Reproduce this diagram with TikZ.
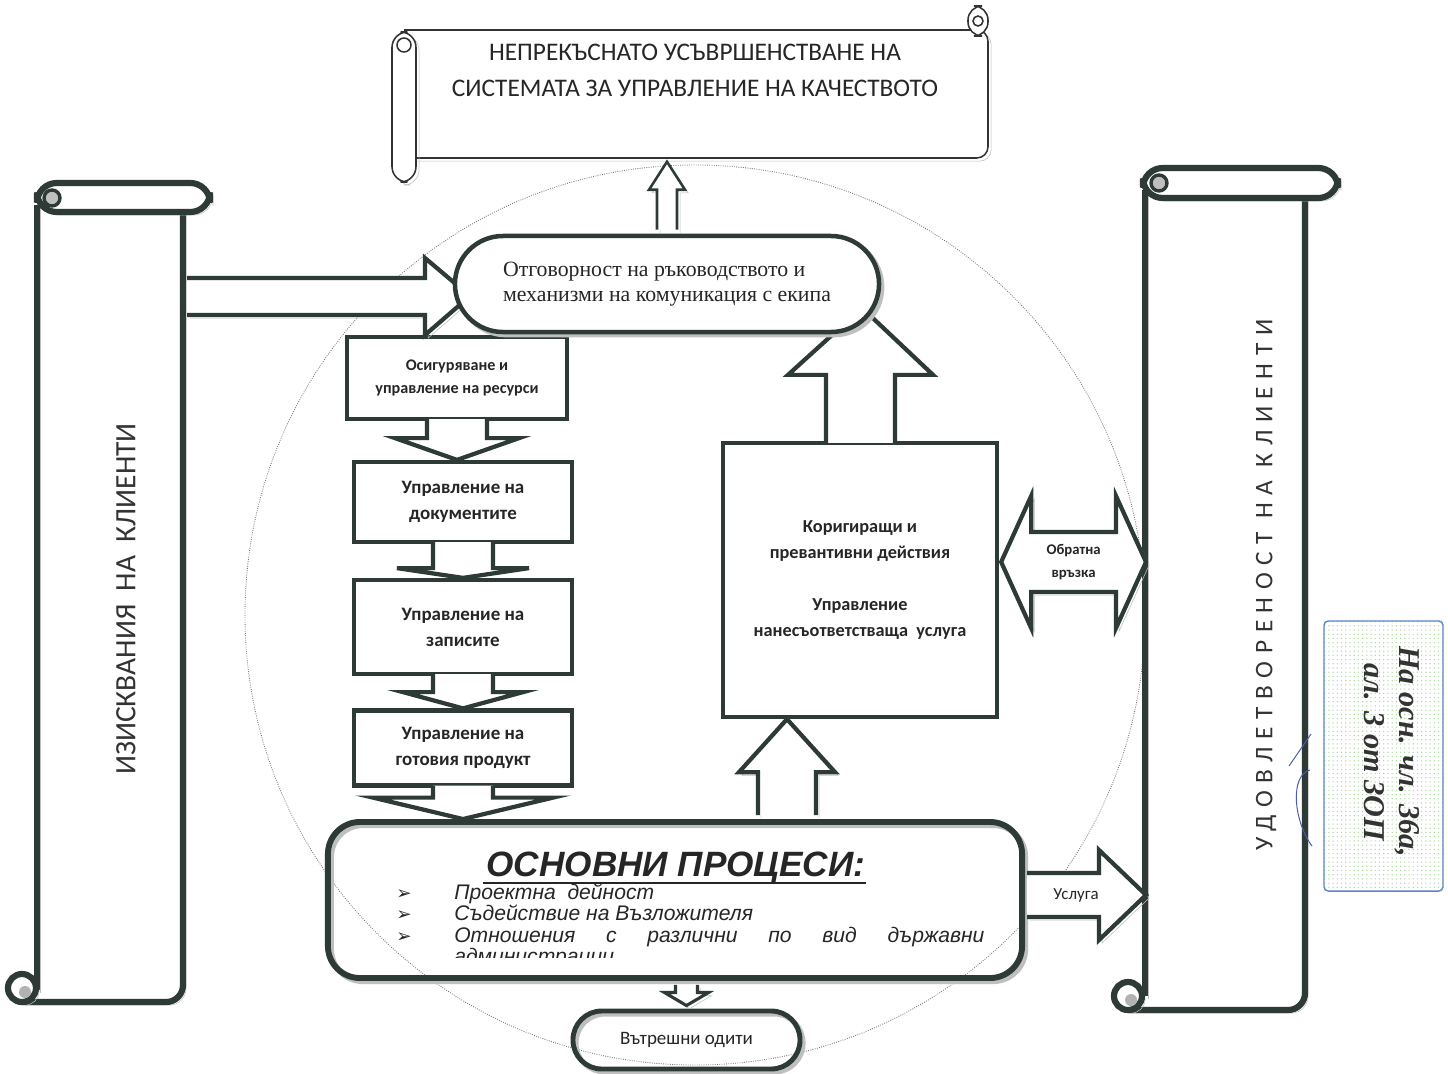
\documentclass[tikz,border=0pt]{standalone}
\usepackage{fontspec}
\setmainfont{Liberation Serif}
\newfontfamily\calibrifont{Carlito}
\newfontfamily\arialfont{Liberation Sans}
\newfontfamily\dingfont{DejaVu Sans}
\newfontfamily\widefont[LetterSpace=30]{Carlito}
\usetikzlibrary{calc,shadows,patterns}

\definecolor{ink}{HTML}{2E3A36}
\definecolor{stampblue}{HTML}{5B86C5}
\definecolor{dotgreen}{HTML}{A8D898}
\definecolor{penblue}{HTML}{4A5DB0}

\tikzset{
  rim/.style={draw=ink, line width=3pt, line join=miter},
  heavyrim/.style={draw=ink, line width=4.4pt},
  thinrim/.style={draw=black!80, line width=1.1pt},
  ghost/.style={general shadow={draw=black!25, shadow xshift=2.2pt, shadow yshift=-2.2pt}},
  stepbox/.style={rim, fill=white, align=center, text=black!85,
    font=\calibrifont\bfseries\fontsize{13.5}{18.5}\selectfont},
  blockarrow/.style={rim, fill=white},
  listline/.style={anchor=base west, inner sep=0pt, text=black!85,
    font=\arialfont\itshape\fontsize{15}{18}\selectfont},
  markline/.style={anchor=base west, inner sep=0pt, text=black!85,
    font=\dingfont\fontsize{13}{15}\selectfont},
}

\begin{document}
\begin{tikzpicture}[x=0.025cm, y=-0.025cm]
  \path[use as bounding box, fill=white] (0,0) rectangle (1448,1073);

  % dotted circle behind the processes
  \draw[black!55, densely dotted, line width=0.6pt] (695,615) circle (450);

  % top scroll
  \draw[thinrim, ghost, fill=white, rounded corners=8] (404,30) -- (988,30) -- (988,158) -- (404,158);
  \draw[thinrim, fill=white, rounded corners=10] (968,6) rectangle (988,36);
  \draw[thinrim] (978,21) circle (5);
  \draw[thinrim, ghost, fill=white, rounded corners=11] (392,32) rectangle (416,182);
  \draw[thinrim] (404,45) circle (7);
  \node[font=\calibrifont\fontsize{18}{25.5}\selectfont, align=center, text=black!85] (goal) at (695,70)
    {НЕПРЕКЪСНАТО УСЪВРШЕНСТВАНЕ НА\\СИСТЕМАТА ЗА УПРАВЛЕНИЕ НА КАЧЕСТВОТО};

  % left scroll
  \fill[white] (37,205) rectangle (183,1002);
  \draw[heavyrim, ghost] (37,205) -- (37,990);
  \draw[heavyrim, ghost, rounded corners=12] (22,1002) -- (183,1002) -- (183,205);
  \draw[heavyrim, ghost, fill=white] (22,988) circle (14);
  \fill[black!30] (25,992) circle (6);
  \draw[heavyrim, ghost, fill=white, rounded corners=14] (37,183) rectangle (210,212);
  \draw[ink, line width=2.4pt, fill=black!25] (52,198) circle (8);
  \node[rotate=90, font=\calibrifont\fontsize{21}{24}\selectfont, text=black!80] (needs) at (126,599)
    {ИЗИСКВАНИЯ\ \ НА\ \ КЛИЕНТИ};
  \coordinate (needsedge) at (187,296);

  % right scroll
  \fill[white] (1145,190) rectangle (1305,1010);
  \draw[heavyrim, ghost] (1145,190) -- (1145,996);
  \draw[heavyrim, ghost, rounded corners=12] (1128,1010) -- (1305,1010) -- (1305,190);
  \draw[heavyrim, ghost, fill=white] (1128,996) circle (14);
  \fill[black!30] (1131,1000) circle (6);
  \draw[heavyrim, ghost, fill=white, rounded corners=14] (1143,168) rectangle (1338,198);
  \draw[ink, line width=2.4pt, fill=black!25] (1159,183) circle (8);
  \node[rotate=90, font=\widefont\fontsize{18}{20}\selectfont, text=black!80] (sat) at (1266,585)
    {УДОВЛЕТВОРЕНОСТ НА КЛИЕНТИ};
  \coordinate (satedge) at (1146,0);

  % main processes
  \node[draw=ink, line width=4.2pt, ghost, rounded corners=0.8cm,
        minimum width=17.35cm, minimum height=3.9cm] (core) at (675,900) {};
  \node[font=\arialfont\bfseries\itshape\fontsize{25}{30}\selectfont, inner sep=0pt,
        anchor=base, text=black!85] (title) at (676,876) {ОСНОВНИ ПРОЦЕСИ:};
  \draw[black!85, line width=1.5pt] ($(title.base west)+(-3,7)$) -- ($(title.base east)+(0,7)$);
  \begin{scope}
    \clip (330,824) rectangle (1020,957);
    \node[listline] (item1) at (454,899) {Проектна\ \ дейност};
    \node[listline] (item2) at (454,920.5) {Съдействие на Възложителя};
    \node[listline] (item3) at (454,942) {\makebox[13.25cm][s]{Отношения с различни по вид държавни}};
    \node[listline] (item4) at (454,963.5) {администрации};
    \foreach \i in {1,2,3}
      \node[markline] at ($(item\i.base west)+(-58,0)$) {➢};
  \end{scope}

  % left column
  \node[stepbox, minimum width=5.5cm, minimum height=2.05cm,
        font=\calibrifont\bfseries\fontsize{11.5}{16.5}\selectfont] (res) at (457,378)
    {Осигуряване и\\управление на ресурси};
  \node[stepbox, minimum width=5.45cm, minimum height=2cm] (docs) at (463,502) {Управление на\\документите};
  \node[stepbox, minimum width=5.45cm, minimum height=2.35cm] (recs) at (463,627) {Управление на\\записите};
  \node[stepbox, minimum width=5.45cm, minimum height=1.875cm] (prod) at (463,748) {Управление на\\готовия продукт};
  \foreach \src/\dst/\wing/\drop in {res/docs/62/17, docs/recs/66/24, recs/prod/60/16, prod/core/90/10}
    \draw[blockarrow] ($(\src.south)+(-30,-2)$) -- ++(0,\drop+2) -- ++(30-\wing,0)
      -- (\src.south |- \dst.north) -- ($(\src.south)+(\wing,\drop)$) -- ++(30-\wing,0) -- ++(0,-\drop-2);

  % corrective actions
  \node[stepbox, minimum width=6.85cm, minimum height=6.85cm,
        font=\calibrifont\bfseries\fontsize{13}{18.5}\selectfont] (corr) at (860,580)
    {Коригиращи и\\превантивни действия\\[19pt]Управление\\нанесъответстваща\ \ услуга};
  \draw[blockarrow] ($(corr.north)+(-34,2)$) -- ++(0,-68) -- ++(-38,0) -- ($(corr.north)+(2,-133)$)
    -- ($(corr.north)+(73,-66)$) -- ++(-38,0) -- ++(0,68);

  % requirements into management
  \draw[blockarrow, ghost] ($(needsedge)+(0,-18)$) -- ++(238,0) -- ++(0,-20) -- ($(needsedge)+(283,0)$)
    -- ++(-45,39) -- ++(0,-20) -- ++(-238,0);

  % management
  \node[draw=ink, line width=3.2pt, fill=white, ghost, rounded corners=1.2cm,
        minimum width=10.6cm, minimum height=2.4cm, align=left,
        font=\fontsize{15.5}{18}\selectfont, text=black!85] (lead) at (667,284)
    {Отговорност на ръководството и\\механизми на комуникация с екипа};
  \draw[blockarrow, ghost, line width=1.8pt] ($(lead.north)+(-10,-4)$) -- ++(0,-40) -- ++(-8,0)
    -- ($(lead.north)+(0,-72)$) -- ($(lead.north)+(18,-44)$) -- ++(-8,0) -- ++(0,40);

  % processes feed the corrective actions
  \coordinate (fix) at ($(corr.south)+(-73,0)$);
  \draw[blockarrow, ghost] ($(fix |- core.north)+(-29,-4)$) -- ($(fix)+(-29,53)$) -- ++(-19,0) -- (fix)
    -- ($(fix)+(48,53)$) -- ++(-19,0) -- ($(fix |- core.north)+(29,-4)$);

  % internal audits
  \node[draw=ink, line width=3.5pt, ghost, rounded corners=0.72cm,
        minimum width=5.675cm, minimum height=1.45cm,
        font=\calibrifont\fontsize{13.5}{16}\selectfont, text=black!85] (audit) at (686.5,1040) {Вътрешни одити};
  \draw[blockarrow, ghost, line width=2.2pt] ($(audit.north |- core.south)+(-11,4)$) -- ($(audit.north)+(-11,-16)$)
    -- ++(-11,0) -- ($(audit.north)+(0,-3)$) -- ($(audit.north)+(22,-16)$) -- ++(-11,0)
    -- ($(audit.north |- core.south)+(11,4)$);

  % feedback
  \coordinate (fbl) at ($(corr.east)+(2,-18)$);
  \coordinate (fbr) at (fbl -| satedge);
  \draw[blockarrow, ghost] (fbl) -- ++(30,-66) -- ++(0,36) -- ($(fbr)+(-30,-30)$) -- ++(0,-36) -- (fbr)
    -- ++(-30,66) -- ++(0,-36) -- ($(fbl)+(30,30)$) -- ++(0,36) -- cycle;
  \node[font=\calibrifont\bfseries\fontsize{10.5}{16}\selectfont, align=center, text=black!85] (fb)
    at ($(fbl)!0.5!(fbr)$) {Обратна\\връзка};

  % service
  \coordinate (srv) at ($(core.east)+(2,-5)$);
  \draw[blockarrow, ghost] ($(srv)+(0,-22)$) -- ($(srv -| satedge)+(-47,-22)$) -- ++(0,-23) -- (srv -| satedge)
    -- ++(-47,45) -- ++(0,-23) -- ($(srv)+(0,22)$);
  \node[font=\calibrifont\fontsize{12}{14}\selectfont, text=black!85] (svc) at ($(srv)+(49,0)$) {Услуга};

  % stamp
  \node[draw=stampblue, line width=1pt, rounded corners=3pt, pattern=dots, pattern color=dotgreen,
        minimum width=2.975cm, minimum height=6.75cm] (stamp) at (1383.5,756) {};
  \node[rotate=-90, align=center, font=\bfseries\itshape\fontsize{21.5}{25}\selectfont, text=black!80] (basis)
    at (1392,752) {На осн. чл. 36а,\\ал. 3 от ЗОП};
  \draw[penblue, line width=0.7pt] (1289,766) -- (1311,734);
  \draw[penblue, line width=0.7pt] (1310,770) .. controls (1290,775) and (1293,820) .. (1312,846);
\end{tikzpicture}
\end{document}
